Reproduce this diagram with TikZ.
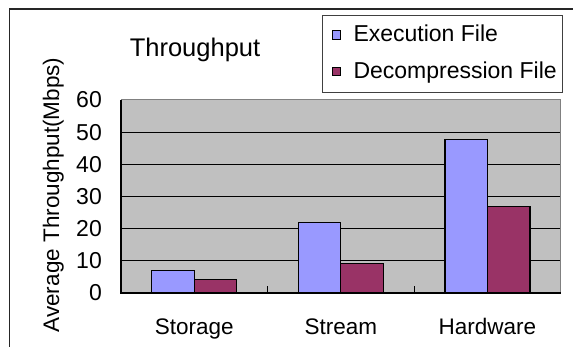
\documentclass[tikz,border=0pt]{standalone}
\usepackage{fontspec}
\setmainfont{Liberation Sans}
\usetikzlibrary{positioning}
\definecolor{execcol}{HTML}{9999FF}
\definecolor{deccol}{HTML}{993366}
\definecolor{plotbg}{HTML}{C0C0C0}
\definecolor{plotrim}{HTML}{808080}

\begin{document}
\begin{tikzpicture}[x=1pt, y=1pt,
		bar/.style={draw=black, line width=1.2pt},
		execbar/.style={bar, fill=execcol},
		decbar/.style={bar, fill=deccol},
		ticklab/.style={anchor=east, inner sep=0pt, font=\fontsize{23}{27}\selectfont},
		catlab/.style={anchor=base, inner sep=0pt, font=\fontsize{22.5}{27}\selectfont},
		legtext/.style={anchor=base west, inner sep=0pt, font=\fontsize{23}{27}\selectfont},
		legkey/.style={draw=black, line width=0.9pt, minimum size=8.5pt, inner sep=0pt},
		gridline/.style={black, line width=0.8pt}
	]
	\useasboundingbox (0,0) rectangle (573,347);
	\clip (0,0) rectangle (573,347);

	% outer frame
	\draw[line width=1.3pt, black!85] (9.5,-5) rectangle (590,338);

	\node[anchor=base, inner sep=0pt, font=\fontsize{25.5}{30}\selectfont] (title) at (195,290) {Throughput};
	\node[rotate=90, anchor=base, inner sep=0pt, font=\fontsize{22.5}{27}\selectfont] (ytitle) at (59,152) {Average Throughput(Mbps)};

	% legend
	\node[draw=black!75, line width=0.8pt, minimum width=240pt, minimum height=76.7pt, inner sep=0pt, anchor=north west] (legend) at (322.3,331.7) {};
	\node[legkey, fill=execcol] (keyexec) at (336.4,312) {};
	\node[legkey, fill=deccol] (keydec) at (336.4,275.3) {};
	\node[legtext] (legexec) at (353.3,305.3) {Execution File};
	\node[legtext] (legdec) at (353.3,268.7) {Decompression File};

	\begin{scope}[shift={(121,54)}, y=3.2167pt]
		\fill[plotbg] (0,0) rectangle (439.7,60);
		\foreach \v in {10,20,...,50}
			\draw[gridline] (0,\v) -- (439.7,\v);
		\draw[plotrim, line width=1pt] (0,60) -- (439.7,60) -- (439.7,0);

		\foreach \v in {0,10,...,60}
			\node[ticklab] (tick-\v) at (-19,\v) {\v};

		\foreach \cx/\ev/\dv/\cat [count=\k] in {73.3/7/4.3/Storage, 219.8/22/9.2/Stream, 366.4/47.7/27/Hardware} {
			\draw[execbar] (\cx-42.5,0) rectangle (\cx,\ev);
			\draw[decbar] (\cx,0) rectangle (\cx+42.5,\dv);
			\node[catlab] (cat-\k) at (\cx,-42pt) {\cat};
		}

		\foreach \t in {146.6, 293.1}
			\draw[line width=1pt] (\t,0) -- ++(0,7pt);
		\draw[line width=1.2pt] (0,60) -- (0,0) -- (439.7,0);
	\end{scope}

\end{tikzpicture}
\end{document}
